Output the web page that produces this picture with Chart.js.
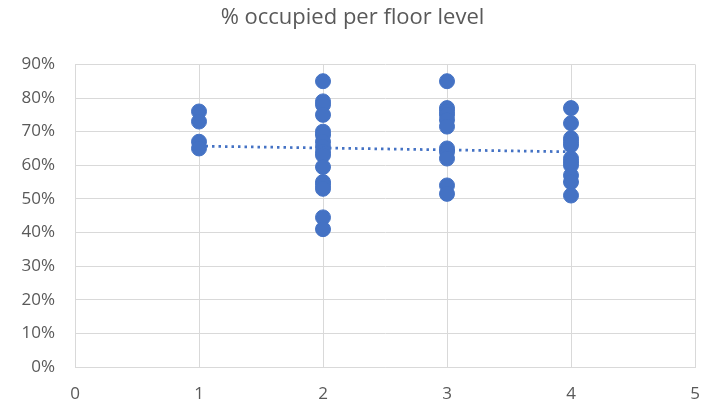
<!DOCTYPE html>
<html>
<head>
<meta charset="utf-8">
<script src="https://cdn.jsdelivr.net/npm/chart.js@4/dist/chart.umd.min.js"></script>
<style>
    html, body { margin: 0; padding: 0; background: #fff; }
    #wrap { width: 705px; height: 408px; }
</style>
</head>
<body>
<div id="wrap"><canvas id="myChart" width="705" height="408"></canvas></div>
<script>
// floor level -> occupancy (fraction)
const floor1 = [0.76, 0.73, 0.67, 0.65];
const floor2 = [0.85, 0.79, 0.78, 0.75, 0.70, 0.69, 0.67, 0.655, 0.64, 0.63, 0.595, 0.55, 0.54, 0.53, 0.445, 0.41];
const floor3 = [0.85, 0.77, 0.76, 0.75, 0.735, 0.715, 0.65, 0.64, 0.62, 0.54, 0.515];
const floor4 = [0.77, 0.725, 0.68, 0.67, 0.66, 0.62, 0.61, 0.60, 0.57, 0.55, 0.51];
const floors = [1, 2, 3, 4];
// linear trend (at floor 1 and floor 4)
const trendX = [1, 4];
const trendY = [0.657, 0.640];
const xTicks = [0, 1, 2, 3, 4, 5];

const groups = [floor1, floor2, floor3, floor4];
const points = [];
groups.forEach((vals, i) => {
    vals.forEach(v => points.push({ x: floors[i], y: v }));
});

const blue = '#4472c4';
const grey = '#595959';

const ctx = document.getElementById('myChart').getContext('2d');
const chart = new Chart(ctx, {
    type: 'scatter',
    data: {
        datasets: [{
            label: 'occupied',
            data: points,
            backgroundColor: blue,
            borderColor: blue,
            pointRadius: 7.5,
            pointHoverRadius: 7.5,
            order: 2
        }, {
            label: 'trend',
            type: 'line',
            data: trendX.map((x, i) => ({ x: x, y: trendY[i] })),
            borderColor: blue,
            borderWidth: 2.75,
            borderDash: [2.5, 4],
            pointRadius: 0,
            fill: false,
            order: 1
        }]
    },
    options: {
        responsive: false,
        animation: false,
        layout: { padding: { left: 0, right: 0, top: 4, bottom: 0 } },
        plugins: {
            legend: { display: false },
            tooltip: { enabled: false },
            title: {
                display: true,
                text: '% occupied per floor level',
                color: grey,
                font: { family: 'Open Sans', size: 22, weight: 'normal' },
                padding: { top: 1, bottom: 33 }
            }
        },
        scales: {
            x: {
                type: 'linear',
                min: 0,
                max: 5,
                afterBuildTicks: axis => { axis.ticks = xTicks.map(v => ({ value: v })); },
                afterFit: axis => {
                    axis.height = 41;
                    axis.paddingLeft = 0;
                    axis.paddingRight = 10;
                },
                grid: { color: '#d9d9d9', drawTicks: false },
                border: { color: '#d9d9d9' },
                ticks: {
                    color: grey,
                    padding: 17,
                    font: { family: 'Open Sans', size: 17 }
                }
            },
            y: {
                min: 0,
                max: 0.9,
                afterFit: axis => { axis.width = 75; },
                grid: { color: '#d9d9d9', drawTicks: false },
                border: { color: '#d9d9d9' },
                ticks: {
                    stepSize: 0.1,
                    color: grey,
                    padding: 20,
                    font: { family: 'Open Sans', size: 17 },
                    callback: v => Math.round(v * 100) + '%'
                }
            }
        }
    }
});
</script>
</body>
</html>
